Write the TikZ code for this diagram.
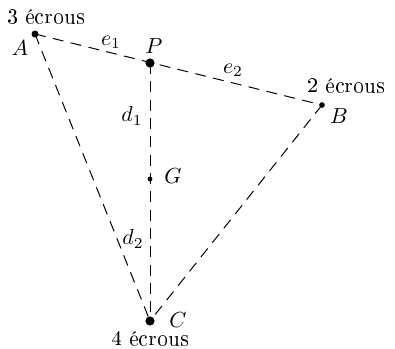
\documentclass[tikz,border=0pt]{standalone}
\usepackage[T1]{fontenc}
\usetikzlibrary{positioning}

\begin{document}
\begin{tikzpicture}[x=0.0161cm,y=-0.0161cm,
  side/.style={dash pattern=on 5pt off 3.4pt,line width=0.45pt},
  pt/.style={circle,fill=black,inner sep=0pt,minimum size=#1},
  lbl/.style={inner sep=0pt}
]
\useasboundingbox (0,0) rectangle (395,349);

\node[pt=3.2pt] (A) at (35,34) {};
\node[pt=4.2pt] (P) at (150,63) {};
\node[pt=2.6pt] (B) at (322,105) {};
\node[pt=2.2pt] (G) at (150,179) {};
\node[pt=4.2pt] (C) at (150,321) {};

\draw[side] (A.center) -- (B.center);
\draw[side] (A.center) -- (C.center);
\draw[side] (B.center) -- (C.center);
\draw[side] (P.center) -- (C.center);

\node[lbl] (labA) at (20,48) {$A$};
\node[lbl] (nutA) at (46,17) {3 écrous};
\node[lbl] (labP) at (154,46) {$P$};
\node[lbl] (labe1) at (111,42) {$e_1$};
\node[lbl] (labe2) at (233,70) {$e_2$};
\node[lbl] (nutB) at (346,86) {2 écrous};
\node[lbl] (labB) at (339,116) {$B$};
\node[lbl] (labd1) at (132,116) {$d_1$};
\node[lbl] (labG) at (173,176) {$G$};
\node[lbl] (labd2) at (133,239) {$d_2$};
\node[lbl] (labC) at (178,320) {$C$};
\node[lbl] (nutC) at (150,338) {4 écrous};
\end{tikzpicture}
\end{document}
